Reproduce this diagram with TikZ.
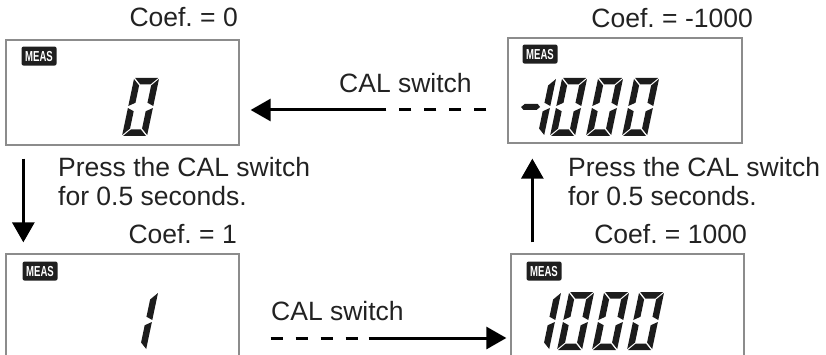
\documentclass[tikz,border=0pt]{standalone}
\usepackage{fontspec}
\setmainfont{Liberation Sans}
\usetikzlibrary{arrows.meta}

\definecolor{ink}{HTML}{222222}
\definecolor{frame}{HTML}{8C8C8C}
\definecolor{lcdink}{HTML}{1C1C1C}

% segments of one lcd digit, upright, 25 wide and 58 high
\def\lcdsega{(1,58) -- (24,58) -- (17.5,51.5) -- (7.5,51.5) -- cycle}
\def\lcdsegb{(25,57) -- (18.5,50.5) -- (18.5,33.25) -- (25,30) -- cycle}
\def\lcdsegc{(25,1) -- (18.5,7.5) -- (18.5,24.75) -- (25,28) -- cycle}
\def\lcdsegd{(1,0) -- (24,0) -- (17.5,6.5) -- (7.5,6.5) -- cycle}
\def\lcdsege{(0,1) -- (6.5,7.5) -- (6.5,24.75) -- (0,28) -- cycle}
\def\lcdsegf{(0,57) -- (6.5,50.5) -- (6.5,33.25) -- (0,30) -- cycle}
\def\lcdsegm{(-4,29) -- (-1,32) -- (12,32) -- (15,29) -- (12,26) -- (-1,26) -- cycle}

\newcommand{\lcddigit}[3]{%
  \begin{scope}[shift={(#1,#2)}, xslant=0.21, yscale=-1]
    \foreach \s in {#3} {\fill[lcdink] \csname lcdseg\s\endcsname;}
  \end{scope}}

\begin{document}
\begin{tikzpicture}[x=1pt, y=-1pt, font=\fontsize{26.5}{29}\selectfont,
    lcdbox/.style={draw=frame, line width=1.3pt, minimum width=233pt, minimum height=105pt, inner sep=0},
    meas/.style={fill=black!88, rounded corners=2pt, text=white, minimum width=35pt, minimum height=19pt,
      inner sep=0, font=\bfseries\fontsize{14.5}{14.5}\selectfont},
    coef/.style={text=ink, inner sep=0, anchor=base east},
    note/.style={text=ink, inner sep=0, align=left, anchor=north west},
    flow/.style={line width=3pt, -{Triangle[length=20pt,width=22pt]}},
    dashpart/.style={line width=3pt, dash pattern=on 12pt off 13pt}]
  \useasboundingbox (0,0) rectangle (826,355);
  \clip (0,0) rectangle (826,355);
  \node[lcdbox] (tl) at (122.5,92.5) {};
  \node[lcdbox, minimum width=234pt] (tr) at (625,90.5) {};
  \node[lcdbox] (bl) at (122.5,306.5) {};
  \node[lcdbox] (br) at (627.5,306.5) {};
  \node[meas, anchor=north west] (mtl) at ([xshift=16pt,yshift=-7pt]tl.north west) {\scalebox{0.66}[1]{MEAS}};
  \node[meas, anchor=north west] (mtr) at ([xshift=15pt,yshift=-7pt]tr.north west) {\scalebox{0.66}[1]{MEAS}};
  \node[meas, anchor=north west] (mbl) at ([xshift=17pt,yshift=-8pt]bl.north west) {\scalebox{0.66}[1]{MEAS}};
  \node[meas, anchor=north west] (mbr) at ([xshift=16pt,yshift=-8pt]br.north west) {\scalebox{0.66}[1]{MEAS}};
  \node[coef] (ctl) at (238,27) {Coef.\ = 0};
  \node[coef] (ctr) at (753,28) {Coef.\ = -1000};
  \node[coef] (cbl) at (237,243) {Coef.\ = 1};
  \node[coef] (cbr) at (747,243) {Coef.\ = 1000};
  \lcddigit{122}{136}{a,b,c,d,e,f}
  \lcddigit{519}{136}{b,c,m}
  \foreach \x in {550,586,622} {\lcddigit{\x}{136}{a,b,c,d,e,f}}
  \lcddigit{121}{350}{b,c}
  \lcddigit{524}{350}{b,c}
  \foreach \x in {557,592,627} {\lcddigit{\x}{350}{a,b,c,d,e,f}}
  \node[coef, anchor=base west] (cal1) at (339,93) {CAL switch};
  \node[coef, anchor=base west] (cal2) at (271,320) {CAL switch};
  \draw[dashpart] ([xshift=-21pt,yshift=-19.5pt]tr.west) -- ++(-87pt,0) coordinate (t1);
  \draw[flow] ([xshift=-13pt]t1) -- ([xshift=11pt]tl.east |- t1);
  \draw[dashpart] ([xshift=31pt,yshift=-31.5pt]bl.east) -- ++(87pt,0) coordinate (b1);
  \draw[flow] ([xshift=11pt]b1) -- ([xshift=-4pt]br.west |- b1);
  \draw[flow] ([xshift=18pt,yshift=-13pt]tl.south west) -- ([xshift=18pt,yshift=11pt]bl.north west);
  \draw[flow] ([xshift=22pt,yshift=11pt]br.north west) coordinate (u0) -- ([yshift=-15pt]tr.south -| u0);
  \node[note] (pl) at (58,157) {Press the CAL switch\\for 0.5 seconds.};
  \node[note] (pr) at (568,157) {Press the CAL switch\\for 0.5 seconds.};
\end{tikzpicture}
\end{document}
